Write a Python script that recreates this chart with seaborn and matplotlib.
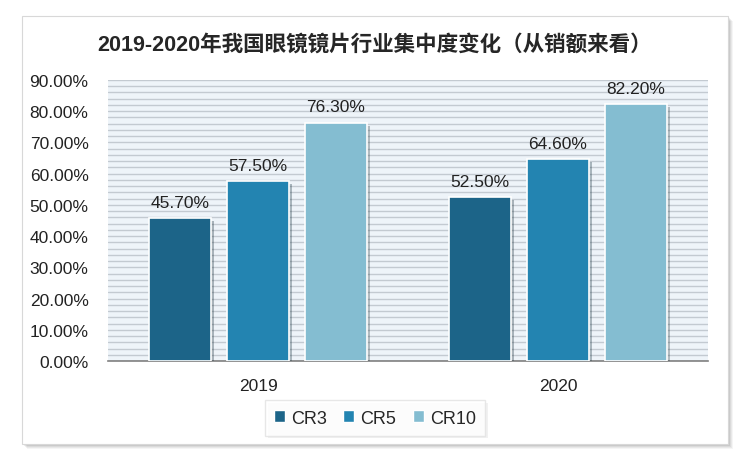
import matplotlib
matplotlib.use('Agg')
import matplotlib.pyplot as plt
import matplotlib.patheffects as pe
from matplotlib.patches import Rectangle
from matplotlib.ticker import FuncFormatter, MultipleLocator
import seaborn as sns
import pandas as pd

years = ['2019', '2020']
series = ['CR3', 'CR5', 'CR10']
cr3 = [45.7, 52.5]
cr5 = [57.5, 64.6]
cr10 = [76.3, 82.2]
colors = ['#1c6488', '#2384b1', '#84bdd1']

df = pd.DataFrame({
    'year': years * 3,
    'group': [s for s in series for _ in years],
    'value': [v / 100 for v in cr3 + cr5 + cr10],
})

sns.set_style('white')
plt.rcParams['font.family'] = ['Liberation Sans', 'Noto Sans CJK SC', 'DejaVu Sans']

fig = plt.figure(figsize=(7.5, 4.64), dpi=100)
fig.patch.set_facecolor('white')

# white panel with a soft shadow
W, H = 750, 464
for i, a in enumerate([0.04, 0.05, 0.06, 0.07, 0.08]):
    off = 5 - i
    fig.patches.append(Rectangle(((22 + off) / W, 1 - (445 + off) / H),
                                 706 / W, 428 / H, transform=fig.transFigure,
                                 facecolor='black', alpha=a, lw=0, zorder=0))
fig.patches.append(Rectangle((22 / W, 1 - 445 / H), 706 / W, 428 / H,
                             transform=fig.transFigure, facecolor='white',
                             edgecolor='#d8d8d8', lw=0.8, zorder=1))

ax = fig.add_axes([108 / W, 1 - 362 / H, 600 / W, 281 / H])
ax.set_facecolor('#eef4f9')
ax.set_zorder(2)

sns.barplot(data=df, x='year', y='value', hue='group', palette=colors,
            saturation=1, width=0.78, gap=0.2, ax=ax, edgecolor='white',
            linewidth=1.2, legend=False, zorder=3)

for bar in ax.patches:
    bar.set_path_effects([pe.SimplePatchShadow(offset=(2, -2), alpha=0.3),
                          pe.Normal()])

for cont in ax.containers:
    ax.bar_label(cont, labels=[f'{b.get_height() * 100:.2f}%' for b in cont],
                 padding=6, fontsize=12.5, color='#222222')

ax.set_ylim(0, 0.9)
ax.set_xlim(-0.5, 1.5)
ax.yaxis.set_major_locator(MultipleLocator(0.1))
ax.yaxis.set_minor_locator(MultipleLocator(0.02))
ax.yaxis.set_major_formatter(FuncFormatter(lambda v, p: f'{v * 100:.2f}%'))
ax.grid(axis='y', which='both', color='#c3cad1', lw=1.0, zorder=0)
ax.set_axisbelow(True)
for s in ['top', 'right', 'left']:
    ax.spines[s].set_visible(False)
ax.spines['bottom'].set_color('#808080')
ax.spines['bottom'].set_linewidth(1.2)
ax.tick_params(axis='y', which='both', length=0, labelsize=12.5, pad=14, labelcolor='#222222')
ax.tick_params(axis='x', length=0, labelsize=12.5, pad=12, labelcolor='#222222')
ax.set_xlabel(None)
ax.set_ylabel(None)

fig.text(0.5, 1 - 45 / H, '2019-2020年我国眼镜镜片行业集中度变化（从销额来看）',
         ha='center', va='center', fontsize=15.5, fontweight='bold', zorder=5)

handles = [Rectangle((0, 0), 1, 1, facecolor=c, edgecolor='white') for c in colors]
leg = fig.legend(handles, series, loc='center', bbox_to_anchor=(375 / W, 1 - 419 / H),
                 ncol=3, frameon=True, fontsize=13, handlelength=0.6, handleheight=0.6,
                 handletextpad=0.35, columnspacing=0.9, fancybox=False,
                 shadow=False, borderpad=0.5)
frame = leg.get_frame()
frame.set_edgecolor('#e2e2e2')
frame.set_linewidth(1.0)
frame.set_path_effects([pe.SimplePatchShadow(offset=(2, -2), alpha=0.08), pe.Normal()])
leg.set_zorder(5)

plt.savefig('out.png', dpi=100)
